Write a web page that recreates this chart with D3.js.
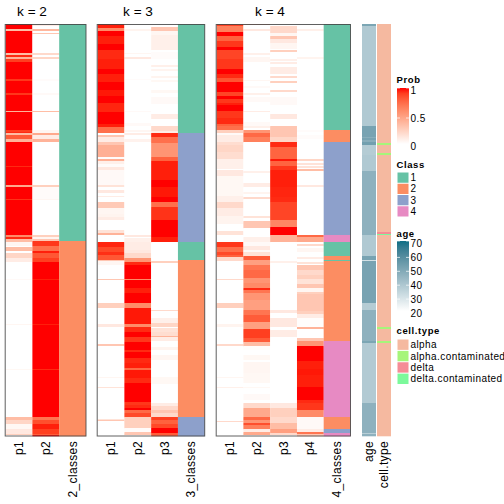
<!DOCTYPE html>
<html><head><meta charset="utf-8">
<script src="https://cdn.jsdelivr.net/npm/d3@7"></script>
<style>html,body{margin:0;padding:0;background:#fff}svg{display:block}text{font-family:"Liberation Sans",Arial,sans-serif;fill:#000}</style>
</head><body><svg id="c" width="504" height="504"></svg>
<script>
// Sample count: every column has one value per sample (rows ordered as in the reference).
const sampleCount = 412;
// Each list holds [firstSample, lastSampleExclusive, value]; later entries override earlier ones; the rest is 0.
const k2p1 = [[0,211,1],[5,7,.35],[29,31,.35],[31,33,.95],[33,35,.4],[35,38,.9],[55,57,.92],[69,71,.92],[87,88,.4],[106,108,.9],[108,109,.95],[109,111,.35],[111,115,.8],[115,118,.4],[142,143,.95],[161,163,.45],[175,176,.93],[211,213,.6],[213,215,.95],[215,218,.35],[218,222,.05],[223,227,.35],[229,234,.22],[234,238,.1],[255,256,.03],[300,301,.05],[345,346,.04],[393,396,.35],[396,400,.22],[400,405,.04],[405,410,.12],[410,411,.25]];
const k2p2 = [[0,2,.1],[5,7,.38],[9,10,.3],[29,31,.2],[33,35,.22],[55,57,.02],[69,71,.03],[87,88,.35],[106,109,.05],[109,111,.45],[111,115,.1],[115,118,.4],[161,163,.25],[163,175,.02],[175,176,.05],[211,213,.25],[213,215,.05],[215,217,.3],[217,412,1],[217,222,.92],[222,227,.72],[227,229,.97],[229,234,.82],[234,238,.9],[255,256,.97],[300,301,.97],[345,346,.95],[393,396,.7],[396,400,.85],[400,405,.97],[405,410,.9],[410,411,.8]];
const k3p1 = [[0,4,.97],[4,7,.6],[7,12,1],[12,20,.97],[20,26,1],[26,35,.95],[35,45,.97],[45,50,1],[50,58,.97],[58,66,1],[66,72,.98],[72,79,1],[79,88,.96],[88,100,1],[100,103,.97],[103,109,.72],[111,113,.3],[113,118,.1],[118,121,.3],[121,133,.42],[133,135,.02],[135,137,.42],[137,140,.08],[140,143,.02],[143,146,.12],[146,161,.03],[161,163,.15],[166,169,.12],[172,173,.1],[178,184,.28],[184,190,.05],[190,193,.06],[193,196,.1],[206,209,.15],[209,211,.4],[218,223,.96],[223,228,.87],[228,231,.94],[231,236,.82],[236,237,.3],[237,241,.05],[255,256,.3],[279,284,.25],[300,303,.12],[320,322,.3],[353,354,.05],[363,364,.15],[395,396,.15],[396,397,.3]];
const k3p2 = [[5,7,.06],[29,30,.05],[33,35,.12],[55,56,.02],[87,88,.03],[99,102,.03],[106,108,.05],[109,111,.1],[115,118,.07],[211,213,.12],[214,218,.08],[218,226,.1],[226,229,.12],[229,234.,.2],[234,238,.55],[238,241,.95],[241,255,1],[255,256,.6],[256,264,1],[264,269,.97],[269,279,1],[279,284,.6],[284,300,.98],[300,303,.6],[303,308,.95],[308,313,1],[313,318,.92],[318,326,1],[326,328,.95],[328,334,1],[334,339,.95],[339,344,.97],[344,346,.75],[346,354,.98],[354,359,.95],[359,378,1],[378,381,.92],[381,384,.95],[384,386,1],[386,389,.75],[389,393,.87],[393,404,.25],[404,408,.02],[408,411,.3]];
const k3p3 = [[3,7,.3],[7,11,.05],[11,26,.08],[28,35,.02],[41,43,.08],[45,47,.06],[52,54,.06],[56,58,.04],[66,69,.04],[73,80,.03],[90,95,.1],[102,107,.2],[107,109,.1],[109,113,.95],[113,119,.72],[119,133,.55],[133,137,.78],[137,156,.97],[156,163,1],[163,173,.98],[173,178,1],[178,183,.72],[183,196,.93],[196,213,1],[213,218,.97],[237,239,.25],[286,287,.2],[294,299,.08],[299,303,.22],[304,308,.15],[308,312,.18],[312,313,.4],[313,317,.1],[323,326,.06],[331,336,.05],[353,360,.04],[379,382,.1],[382,386,.2],[386,389,.3],[389,393,.2],[393,396,.9],[396,400,.78],[400,404,.87],[404,409,1],[409,412,.8]];
const k4p1 = [[0,2,.88],[2,8,.65],[8,12,1],[12,17,.78],[17,23,.92],[23,26,1],[26,35,.88],[35,45,.92],[45,50,1],[50,54,.95],[54,58,.83],[58,68,1],[68,72,.88],[72,75,1],[75,79,.92],[79,81,.97],[81,87,1],[87,94,.92],[94,100,.95],[100,102,.78],[102,106,.72],[106,109,.25],[109,111,.03],[111,118,.1],[118,121,.18],[121,128,.22],[128,135,.18],[135,145,.08],[146,152,.12],[152,172,.04],[172,178,.08],[178,184,.2],[184,192,.1],[192,200,.06],[207,211,.15],[218,223,.92],[223,228,.72],[228,231,.87],[231,233,.78],[233,237,.2],[255,256,.2],[279,284,.25],[300,303,.06],[320,322,.2],[353,354,.05],[363,364,.08],[397,398,.2]];
const k4p2 = [[0,1,.4],[5,7,.12],[29,31,.08],[33,35,.05],[35,38,.05],[56,57,.05],[62,64,.03],[69,71,.08],[73,78,.03],[87,88,.1],[98,102,.03],[102,104,.08],[106,109,.55],[109,113,.75],[113,118,.65],[147,149,.08],[159,163,.1],[168,170,.06],[173,175,.2],[192,194,.15],[197,204,.3],[213,218,.08],[218,222,.03],[222,226,.12],[226,228,.03],[228,232,.15],[232,236,.8],[236,241,.5],[241,246,.7],[246,254,.75],[254,259,.55],[259,264,.6],[264,266,.95],[266,269,.7],[269,276,.55],[276,286,.5],[286,291,.7],[291,298,.8],[298,305,.5],[305,314,.9],[314,318,.8],[318,322,.35],[322,326,.01],[331,336,.04],[338,349,.05],[349,359,.04],[363,364,.04],[370,376,.03],[379,384,.2],[384,393,.45],[393,396,.75],[396,399,.55],[399,401,.85],[401,405,.65],[405,408,.1],[408,411,.45]];
const k4p3 = [[2,9,.2],[9,12,.05],[12,15,.3],[15,19,.12],[19,25,.05],[26,28,.25],[35,37,.08],[38,40,.1],[43,50,.1],[52,54,.2],[57,59,.25],[66,68,.2],[73,81,.03],[90,95,.12],[102,113,.3],[113,118,.22],[118,123,.95],[123,135,.77],[135,137,.98],[137,142,.77],[142,146,.92],[146,163,.97],[163,173,.96],[173,178,.95],[178,196,.88],[196,203,.62],[203,211,1],[211,213,.4],[213,218,.4],[237,239,.08],[286,289,.12],[294,303,.12],[306,313,.1],[379,384,.12],[384,393,.25],[393,399,.2],[399,405,.35],[405,409,.5],[409,411,.2]];
const k4p4 = [[5,7,.08],[33,35,.06],[106,108,.02],[111,115,.02],[135,137,.22],[139,141,.15],[142,144,.15],[145,147,.35],[161,163,.12],[211,213,.75],[213,218,.45],[220,222,.2],[224,228,.05],[233,235,.1],[238,240,.15],[241,246,.3],[246,251,.2],[251,255,.25],[255,260,.15],[260,264,.3],[264,268,.05],[268,270,.25],[270,287,.3],[287,290,.25],[290,294,.1],[294,303,.01],[303,305,.4],[314,317,.3],[317,322,.55],[322,337,1],[337,345,.97],[345,351,.98],[351,363,.97],[363,376,1],[376,379,.95],[379,386,.92],[386,393,.6],[393,405,.03],[405,408,.1],[408,410,.7],[410,412,.3]];
const k2classes = [[0,217,1],[217,412,2]];
const k3classes = [[0,109,1],[109,218,3],[218,236,1],[236,393,2],[393,412,3]];
const k4classes = [[0,106,1],[106,118,2],[118,211,3],[211,218,4],[218,232,1],[232,317,2],[236,237,1],[317,393,4],[393,405,2],[405,409,3],[409,412,4]];
const ageRuns = [[0,2,50],[2,102,38],[102,116,51],[113,114,47],[116,118,47],[118,121,52],[121,131,37],[131,147,38],[147,211,46],[211,218,38],[218,232,38],[232,236,51],[236,237,30],[237,279,51],[279,286,37],[286,317,46],[317,319,50],[319,379,37.5],[379,409,46],[409,410,36],[410,412,46]];
const cellRuns = [[0,412,"alpha"],[119,121,"alpha.contaminated"],[129,131,"alpha.contaminated"],[208,210,"delta"],[210,211,"delta.contaminated"],[303,305,"alpha.contaminated"],[317,319,"alpha.contaminated"]];

const classLevels = ["1","2","3","4"];
const classColors = ["#66C2A5","#FC8D62","#8DA0CB","#E78AC3"];
const cellLevels = ["alpha","alpha.contaminated","delta","delta.contaminated"];
const cellColors = ["#F5B9A0","#A6F57A","#F58C96","#7CF99B"];
const probTicks = [1,0.5,0];
const ageTicks = [70,60,50,40,30,20];
const titles = ["k = 2","k = 3","k = 4"];

const svg = d3.select("#c");
const samples = d3.range(sampleCount);
const y = d3.scaleBand().domain(samples).range([24,436]);
const probColor = d3.scaleLinear().domain([0,1]).range(["#ffffff","#ff0000"]).interpolate(d3.interpolateLab);
const ageColor = d3.scaleLinear().domain([20,70]).range(["#ffffff","#0e6e85"]).interpolate(d3.interpolateLab);
const classColor = d3.scaleOrdinal().domain(classLevels).range(classColors);
const cellColor = d3.scaleOrdinal().domain(cellLevels).range(cellColors);

function expand(runs, empty){
  const out = samples.map(()=>empty);
  runs.forEach(([a,b,v])=>{ for(let i=a;i<b;i++) out[i]=v; });
  return out;
}
const panels = [
 {title:titles[0],tx:32,range:[5.7,86],cols:[["p1",k2p1],["p2",k2p2],["2_classes",k2classes,"c"]]},
 {title:titles[1],tx:138,range:[97.7,204.7],cols:[["p1",k3p1],["p2",k3p2],["p3",k3p3],["3_classes",k3classes,"c"]]},
 {title:titles[2],tx:270,range:[216.7,350.5],cols:[["p1",k4p1],["p2",k4p2],["p3",k4p3],["p4",k4p4],["4_classes",k4classes,"c"]]},
];
function drawColumn(g,vals,x0,w,fill){
  g.selectAll(null).data(samples).join("rect")
    .attr("x",x0).attr("width",w)
    .attr("y",i=>y(i)).attr("height",y.bandwidth()+0.3)
    .attr("fill",i=>fill(vals[i]));
}
function label(x,t){
  svg.append("text").attr("transform",`translate(${x},441) rotate(-90)`)
    .attr("text-anchor","end").attr("dominant-baseline","central")
    .attr("font-size",12).attr("letter-spacing",0.35).text(t);
}
panels.forEach(p=>{
  const x = d3.scaleBand().domain(p.cols.map(c=>c[0])).range(p.range);
  const g = svg.append("g");
  p.cols.forEach(([name,runs,kind])=>{
    const vals = expand(runs, kind==="c"?1:0);
    drawColumn(g,vals,x(name),x.bandwidth(),
      kind==="c"?(v=>classColor(String(v))):(v=>probColor(v)));
    label(x(name)+x.bandwidth()/2,name);
  });
  svg.append("rect").attr("x",p.range[0]-0.5).attr("y",24.5)
    .attr("width",p.range[1]-p.range[0]+0.5).attr("height",411.5)
    .attr("fill","none").attr("stroke","#444").attr("stroke-opacity",.85);
  svg.append("text").attr("x",p.tx).attr("y",11).attr("text-anchor","middle")
    .attr("dominant-baseline","central").attr("font-size",13.6).text(p.title);
});
const ageG = svg.append("g");
drawColumn(ageG,expand(ageRuns,38),362,14,v=>ageColor(v));
label(369,"age");
const cellG = svg.append("g");
drawColumn(cellG,expand(cellRuns,"alpha"),377,14,v=>cellColor(v));
label(384,"cell.type");

// Legends
const lx = 397, tx = 410.5;
function heading(yy,t){
  svg.append("text").attr("x",396.5).attr("y",yy).attr("dominant-baseline","central")
    .attr("font-size",9.5).attr("font-weight","bold").attr("letter-spacing",.6).text(t);
}
function tickLabel(yy,t){
  svg.append("text").attr("x",tx).attr("y",yy).attr("dominant-baseline","central")
    .attr("font-size",10).attr("letter-spacing",.42).text(t);
}
function gradient(id,color,dom){
  const gr = svg.append("defs").append("linearGradient").attr("id",id)
    .attr("x1",0).attr("x2",0).attr("y1",0).attr("y2",1);
  d3.range(0,1.001,.1).forEach(t=>gr.append("stop").attr("offset",t)
    .attr("stop-color",color(dom[0]+(dom[1]-dom[0])*t)));
}
function colorbar(id,color,dom,yScale,ticks){
  gradient(id,color,dom);
  svg.append("rect").attr("x",lx).attr("width",12)
    .attr("y",yScale(dom[0])).attr("height",yScale(dom[1])-yScale(dom[0]))
    .attr("fill",`url(#${id})`);
  ticks.slice(1,-1).concat(ticks[0]).forEach(t=>{
    [[lx,lx+3],[lx+9,lx+12]].forEach(([a,b])=>svg.append("line")
      .attr("x1",a).attr("x2",b).attr("y1",yScale(t)).attr("y2",yScale(t))
      .attr("stroke","#fff").attr("stroke-width",.7));
  });
}
heading(79.5,"Prob");
const probY = d3.scaleLinear().domain([1,0]).range([90,146]);
colorbar("gp",probColor,[1,0],d=>d===1?88:d===0?144:probY(d),probTicks);
probTicks.forEach(t=>tickLabel(probY(t),String(t)));

heading(164,"Class");
const classY = d3.scaleBand().domain(classLevels).range([172,217]);
classLevels.forEach(c=>{
  svg.append("rect").attr("x",lx+.5).attr("y",classY(c)+.5)
    .attr("width",11).attr("height",classY.bandwidth()-1).attr("fill",classColor(c));
  tickLabel(classY(c)+classY.bandwidth()/2,c);
});

heading(233,"age");
const ageY = d3.scaleLinear().domain([70,20]).range([243.5,313]);
colorbar("ga",ageColor,[70,20],d=>d===70?241:d===20?311:ageY(d),ageTicks);
ageTicks.forEach(t=>tickLabel(ageY(t),String(t)));

heading(330,"cell.type");
const cellY = d3.scaleBand().domain(cellLevels).range([339,384.5]);
cellLevels.forEach(c=>{
  svg.append("rect").attr("x",lx+.5).attr("y",cellY(c)+.5)
    .attr("width",11).attr("height",cellY.bandwidth()-1).attr("fill",cellColor(c));
  tickLabel(cellY(c)+cellY.bandwidth()/2,c);
});
</script></body></html>
